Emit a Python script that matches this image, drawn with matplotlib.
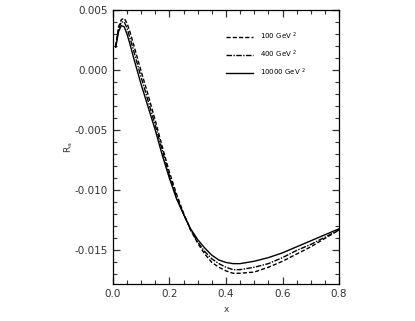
import numpy as np
import matplotlib.pyplot as plt
from matplotlib.ticker import MultipleLocator

# values
x = [0.01, 0.02, 0.03, 0.04, 0.05, 0.06, 0.07, 0.10, 0.125, 0.15, 0.175,
     0.20, 0.225, 0.25, 0.275, 0.30, 0.325, 0.35, 0.375, 0.40, 0.425, 0.45,
     0.50, 0.55, 0.60, 0.65, 0.70, 0.75, 0.80]
r_100 = [0.0020, 0.0036, 0.0042, 0.0043, 0.0039, 0.0032, 0.0024, -0.0001,
         -0.0021, -0.0042, -0.0064, -0.0085, -0.0103, -0.0119, -0.0133,
         -0.0144, -0.0153, -0.0160, -0.0164, -0.0167, -0.0169, -0.0169,
         -0.0168, -0.0164, -0.0159, -0.0153, -0.0147, -0.0140, -0.0133]
r_400 = [0.0019, 0.0034, 0.0040, 0.0040, 0.0035, 0.0027, 0.0019, -0.0006,
         -0.0026, -0.0046, -0.0067, -0.0088, -0.0105, -0.0120, -0.0133,
         -0.0143, -0.0151, -0.0157, -0.0161, -0.0164, -0.0166, -0.0166,
         -0.0164, -0.0161, -0.0156, -0.0150, -0.0145, -0.0139, -0.0133]
r_10000 = [0.0019, 0.0032, 0.0037, 0.0036, 0.0030, 0.0022, 0.0013, -0.0012,
           -0.0031, -0.0050, -0.0071, -0.0090, -0.0107, -0.0120, -0.0132,
           -0.0141, -0.0148, -0.0154, -0.0158, -0.0160, -0.0161, -0.0161,
           -0.0159, -0.0156, -0.0152, -0.0147, -0.0142, -0.0137, -0.0132]
labels = ['100 GeV $^2$', '400 GeV $^2$', '10000 GeV $^2$']

fig = plt.figure(figsize=(4.15, 3.21), dpi=100)
ax = fig.add_axes([0.272, 0.115, 0.545, 0.854])

ax.plot(x, r_100, color='black', lw=1.0, ls=(0, (3, 1.5)), label=labels[0])
ax.plot(x, r_400, color='black', lw=1.0, ls=(0, (4, 1, 1, 1)), label=labels[1])
ax.plot(x, r_10000, color='black', lw=1.0, ls='-', label=labels[2])

ax.set_xlim(0, 0.8)
ax.set_ylim(-0.0178, 0.005)
ax.xaxis.set_major_locator(MultipleLocator(0.2))
ax.xaxis.set_minor_locator(MultipleLocator(0.05))
ax.yaxis.set_major_locator(MultipleLocator(0.005))
ax.yaxis.set_minor_locator(MultipleLocator(0.001))
ax.xaxis.set_major_formatter(plt.FormatStrFormatter('%.1f'))
ax.yaxis.set_major_formatter(plt.FormatStrFormatter('%.3f'))
ax.tick_params(which='both', direction='in', top=True, right=True,
               labelsize=7.5, colors='#333333', labelcolor='#333333')
ax.tick_params(which='major', length=5, width=0.9)
ax.tick_params(which='minor', length=3, width=0.8)
for s in ax.spines.values():
    s.set_linewidth(0.9)

ax.set_xlabel('x', fontsize=6.5, color='#333333', labelpad=4)
ax.set_ylabel('R$_{\\rm a}$', fontsize=6.5, color='#333333', labelpad=0)

leg = ax.legend(loc='upper left', bbox_to_anchor=(0.5, 0.925), frameon=False,
                fontsize=5, handlelength=3.9, handletextpad=1.0,
                labelspacing=0.95, borderpad=0, borderaxespad=0)

fig.savefig('out.png', dpi=100)
